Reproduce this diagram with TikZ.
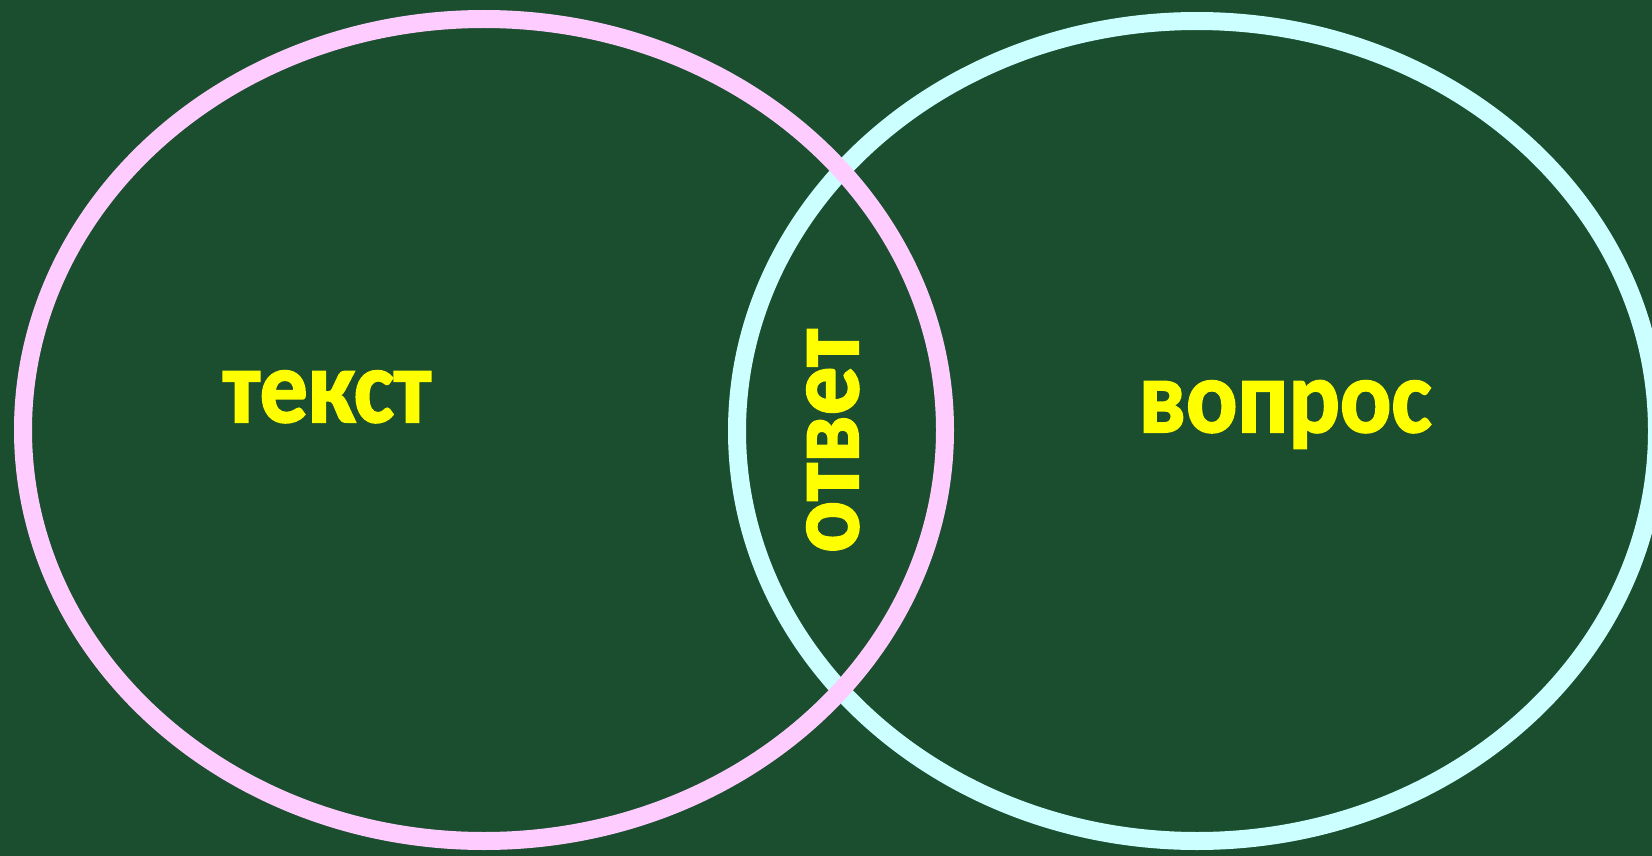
\documentclass[tikz,border=0pt]{standalone}
\usepackage{fontspec}
\setmainfont{Carlito}
\newfontfamily\lblfont{Carlito}[BoldFeatures={FakeBold=2}]
\definecolor{bggreen}{RGB}{27,78,47}
\definecolor{ringpink}{RGB}{255,204,255}
\definecolor{ringcyan}{RGB}{204,255,255}
\definecolor{txtyellow}{RGB}{255,255,0}
\tikzset{
  ring/.style={line width=18pt},
  lbl/.style={text=txtyellow, font=\lblfont\fontsize{104}{110}\selectfont\bfseries, inner sep=0pt, anchor=base}
}
\begin{document}
\begin{tikzpicture}[x=1pt,y=-1pt]
\useasboundingbox (0,0) rectangle (1652,856);
\clip (0,0) rectangle (1652,856);
\fill[bggreen] (0,0) rectangle (1652,856);
\draw[ring, ringcyan] (1197,431) ellipse [x radius=460, y radius=410];
\draw[ring, ringpink] (484,430) ellipse [x radius=461, y radius=411];
\node[lbl] (tekst) at (327,422) {\scalebox{0.92}[1]{текст}};
\node[lbl] (vopros) at (1285,432) {\scalebox{0.92}[1]{вопрос}};
\node[lbl, rotate=90] (otvet) at (858,441) {\scalebox{0.93}[1]{ответ}};
\end{tikzpicture}
\end{document}
